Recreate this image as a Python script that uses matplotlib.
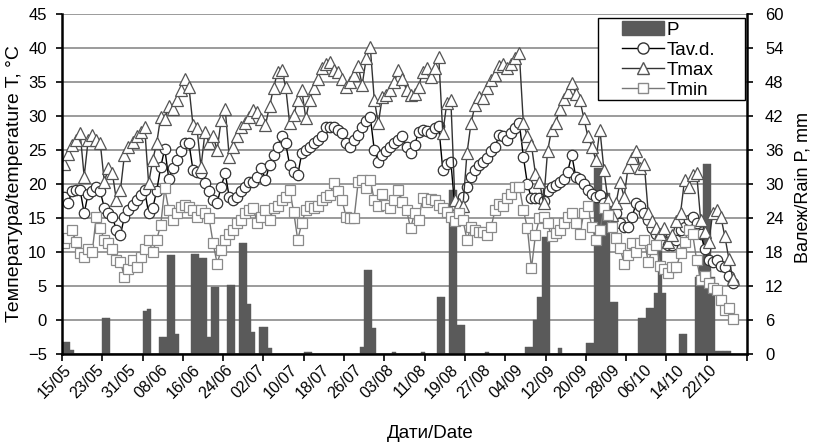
import numpy as np
import matplotlib
matplotlib.use("Agg")
import matplotlib.pyplot as plt
from matplotlib.patches import Patch, Rectangle
from matplotlib.lines import Line2D

plt.rcParams['font.family'] = ['Liberation Sans', 'DejaVu Sans']

# daily data, 15/05 .. 29/10
tmax = [23.0, 24.4, 25.7, 26.5, 27.5, 21.1, 26.5, 27.2, 26.5, 26.0,
        20.3, 22.3, 21.6, 17.6, 19.1, 24.3, 25.5, 26.2, 27.0, 27.7,
        28.4, 20.1, 23.5, 26.0, 29.9, 29.5, 31.4, 31.0, 32.4, 33.8,
        35.5, 34.3, 28.7, 28.2, 22.5, 27.7, 26.0, 27.0, 25.0, 29.4,
        31.1, 24.0, 25.5, 27.0, 28.4, 29.0, 29.8, 30.9, 30.6, 29.5,
        28.7, 31.4, 34.1, 36.5, 36.8, 34.3, 28.9, 30.1, 32.4, 33.8,
        29.7, 32.4, 34.1, 35.5, 37.0, 37.7, 37.9, 36.8, 36.5, 35.5,
        34.3, 35.0, 36.0, 37.3, 34.6, 38.5, 40.2, 32.4, 28.9, 32.8,
        33.1, 33.8, 35.0, 36.8, 35.5, 33.8, 33.1, 33.3, 34.3, 36.5,
        37.0, 35.8, 37.0, 38.7, 27.5, 31.9, 32.4, 17.6, 17.0, 16.7,
        24.5, 28.9, 31.6, 32.8, 32.6, 34.1, 35.3, 36.0, 37.3, 37.7,
        37.0, 37.7, 38.5, 39.2, 28.9, 27.0, 25.7, 21.5, 20.3, 17.2,
        24.8, 28.0, 28.9, 31.0, 32.5, 33.5, 34.8, 33.3, 32.4, 29.7,
        27.0, 25.5, 23.5, 28.0, 22.0, 17.6, 15.5, 17.2, 20.3, 18.1,
        22.5, 23.8, 24.8, 22.3, 23.0, 15.7, 14.5, 13.5, 12.7, 13.5,
        11.5, 12.5, 14.5, 15.7, 20.6, 19.5, 21.3, 21.6, 14.7, 13.0,
        11.5, 15.7, 16.2, 15.2, 12.3, 9.0, 6.0]

tav = [18.1, 17.2, 18.9, 19.1, 19.1, 15.7, 18.6, 18.9, 19.6, 18.9,
       16.5, 15.7, 15.2, 13.2, 12.5, 15.2, 16.2, 16.9, 17.6, 18.4,
       19.1, 15.7, 16.4, 19.0, 22.5, 25.2, 20.8, 22.3, 23.5, 24.8,
       26.0, 26.0, 22.1, 21.8, 21.6, 20.1, 18.9, 17.6, 17.2, 19.6,
       21.6, 18.1, 17.6, 18.1, 18.9, 19.6, 20.3, 20.3, 21.1, 22.3,
       20.6, 22.8, 24.3, 25.5, 27.0, 26.0, 22.8, 21.8, 21.3, 24.5,
       25.0, 25.5, 26.0, 26.5, 27.0, 28.4, 28.4, 28.4, 27.9, 27.5,
       26.0, 25.5, 26.5, 27.2, 28.4, 29.2, 29.9, 25.0, 23.3, 24.3,
       24.8, 25.5, 26.0, 26.5, 27.0, 25.5, 24.5, 25.7, 27.7, 28.0,
       27.8, 27.5, 28.2, 28.5, 22.1, 23.0, 23.3, 16.5, 16.0, 18.1,
       19.6, 21.1, 22.1, 22.8, 23.3, 23.8, 24.8, 25.5, 27.2, 27.0,
       26.5, 27.5, 28.2, 28.9, 24.0, 20.0, 17.9, 17.9, 17.9, 17.5,
       18.9, 19.6, 19.9, 20.3, 20.8, 21.8, 24.3, 21.1, 20.8, 20.0,
       19.1, 18.6, 18.1, 18.4, 17.2, 16.5, 15.7, 15.7, 14.2, 13.7,
       13.7, 15.2, 17.2, 16.7, 15.7, 14.7, 13.5, 12.7, 12.0, 11.5,
       11.0, 11.0, 11.8, 13.2, 13.7, 14.7, 15.2, 14.2, 12.7, 10.5,
       8.8, 8.5, 8.8, 8.0, 7.8, 6.4, 5.4]

tmin = [11.3, 12.0, 13.2, 11.5, 9.8, 9.3, 10.5, 10.0, 15.2, 13.5,
        11.8, 11.3, 10.5, 8.8, 8.6, 6.3, 7.5, 8.8, 7.8, 9.3,
        10.5, 11.8, 10.0, 11.8, 14.0, 19.4, 16.2, 14.7, 15.7, 16.6,
        16.9, 16.6, 16.2, 15.2, 16.2, 15.7, 15.0, 11.3, 8.3, 10.3,
        11.8, 12.7, 13.2, 14.2, 14.7, 15.7, 16.2, 16.4, 14.2, 15.2,
        16.2, 14.7, 16.4, 16.7, 17.6, 18.1, 19.1, 15.9, 11.8, 14.2,
        16.2, 16.7, 16.4, 16.7, 17.6, 18.1, 18.4, 20.1, 18.9, 17.6,
        15.2, 15.0, 15.0, 20.3, 20.6, 19.4, 20.6, 17.6, 16.7, 18.6,
        16.9, 16.5, 17.6, 19.1, 17.4, 16.2, 13.5, 15.7, 14.7, 17.9,
        17.4, 17.8, 17.6, 16.9, 16.5, 15.9, 15.2, 14.5, 15.7, 14.7,
        11.8, 13.7, 13.3, 13.0, 13.0, 12.5, 13.7, 16.2, 17.0, 16.7,
        17.9, 18.5, 19.6, 19.6, 16.2, 13.5, 7.6, 12.5, 15.0, 15.2,
        14.2, 12.3, 12.8, 13.3, 14.2, 15.2, 15.7, 14.2, 12.7, 15.7,
        16.7, 13.7, 11.8, 13.2, 16.4, 15.4, 13.7, 12.0, 10.6, 8.3,
        9.5, 11.3, 10.0, 11.3, 11.8, 8.5, 10.5, 11.0, 8.0, 7.5,
        6.9, 7.8, 7.8, 9.8, 11.5, 13.2, 12.7, 8.8, 5.9, 6.4,
        5.5, 4.7, 4.4, 2.9, 1.5, 1.7, 0.2]

rain = [2.2, 2.2, 0.7, 0, 0, 0, 0, 0, 0, 0,
        6.3, 6.3, 0, 0, 0, 0, 0, 0, 0, 0,
        7.5, 8.0, 0, 0, 3.0, 3.0, 17.5, 17.5, 3.6, 0,
        0, 0, 17.6, 17.6, 16.9, 16.9, 3.0, 11.9, 11.9, 0,
        0, 12.2, 12.2, 0, 19.5, 19.5, 8.9, 3.9, 0, 4.8,
        4.8, 1.0, 0, 0, 0, 0, 0, 0, 0, 0,
        0.4, 0.4, 0, 0, 0, 0, 0, 0, 0, 0,
        0, 0, 0, 0, 1.3, 14.8, 14.8, 4.5, 0, 0,
        0, 0, 0.4, 0, 0, 0, 0, 0, 0, 0.4,
        0, 0, 0, 10.1, 10.1, 0, 28.9, 28.9, 5.1, 5.1,
        0, 0, 0, 0, 0, 0.4, 0, 0, 0, 0,
        0, 0, 0, 0, 0, 1.3, 1.3, 6.0, 10.1, 20.7,
        20.7, 0, 0, 1.0, 0, 0, 0, 0, 0, 0,
        1.9, 1.9, 32.8, 32.8, 28.4, 28.4, 9.2, 9.2, 0, 0,
        0, 0, 0, 6.3, 6.3, 8.1, 8.1, 10.7, 21.6, 10.7,
        0, 0, 0, 3.6, 3.6, 0, 0, 13.6, 15.7, 33.6,
        33.6, 13.6, 0.5, 0.5, 0.5, 0.5, 0]

date_labels = ['15/05', '23/05', '31/05', '08/06', '16/06', '24/06', '02/07',
               '10/07', '18/07', '26/07', '03/08', '11/08', '19/08', '27/08',
               '04/09', '12/09', '20/09', '28/09', '06/10', '14/10', '22/10']

n_cat = 170  # categories on the axis, 15/05 .. 31/10
days = np.arange(len(tmax))

W, H = 815, 448
fig = plt.figure(figsize=(W / 100, H / 100), dpi=100)
ax = fig.add_axes([62 / W, 1 - 354 / H, (747 - 62) / W, (354 - 14) / H])
axp = ax.twinx()
ax.set_zorder(2)
axp.set_zorder(1)
ax.patch.set_visible(False)

bar_col = '#5a5a5a'
axp.bar(days, rain, width=1.0, color=bar_col, edgecolor=bar_col, linewidth=0.3, zorder=2)
axp.set_ylim(0, 60)
axp.set_yticks(range(0, 61, 6))
axp.yaxis.grid(True, color='#8a8a8a', linewidth=1.2)
axp.set_axisbelow(True)

ax.plot(days, tav, '-o', color='black', lw=1.0, ms=7.5, mfc='white', mec='#333333', mew=0.9)
ax.plot(days, tmax, '-^', color='#333333', lw=1.0, ms=8, mfc='white', mec='#555555', mew=0.9)
ax.plot(days, tmin, '-s', color='#777777', lw=1.0, ms=7, mfc='white', mec='#8a8a8a', mew=0.9)

ax.set_xlim(-0.5, n_cat - 0.5)
ax.set_ylim(-5, 45)
ax.set_yticks(range(-5, 46, 5))
ax.set_xticks(np.arange(0, 161, 8))
ax.set_xticklabels(date_labels, rotation=45, ha='right', va='top', rotation_mode='anchor')
ax.set_xticks(np.arange(-0.5, n_cat, 10), minor=True)
ax.tick_params(axis='x', which='major', length=0, labelsize=11.5, pad=6)
ax.tick_params(axis='x', which='minor', length=5, width=1.2, direction='out')
ax.tick_params(axis='y', length=4, width=1.2, labelsize=12, pad=7)
axp.tick_params(axis='y', length=4, width=1.2, labelsize=12, pad=9)

for s in ['top', 'right']:
    ax.spines[s].set_visible(False)
for s in ['left', 'bottom']:
    ax.spines[s].set_linewidth(1.8)
    ax.spines[s].set_color('black')
for s in ['top', 'left', 'bottom']:
    axp.spines[s].set_visible(False)
axp.spines['right'].set_linewidth(1.8)
axp.spines['right'].set_color('black')

ax.set_ylabel('Температура/temperature T, °C', fontsize=14)
ax.yaxis.set_label_coords(-0.057, 0.5)
axp.set_ylabel('Валеж/Rain P, mm', fontsize=13)
axp.yaxis.set_label_coords(1.069, 0.49)
ax.set_xlabel('Дати/Date', fontsize=13.5)
ax.xaxis.set_label_coords(0.537, -0.21)

# legend box
box = Rectangle((598 / W, 1 - 100 / H), 147 / W, 82 / H, transform=fig.transFigure,
                facecolor='white', edgecolor='black', linewidth=1.0, zorder=9, clip_on=False)
ax.add_artist(box)

handles = [Patch(facecolor=bar_col, edgecolor=bar_col),
           Line2D([], [], color='black', lw=1.0, marker='o', ms=8, mfc='white', mec='#333333'),
           Line2D([], [], color='#333333', lw=1.0, marker='^', ms=8.5, mfc='white', mec='#555555'),
           Line2D([], [], color='#777777', lw=1.0, marker='s', ms=7.5, mfc='white', mec='#8a8a8a')]
leg = ax.legend(handles, ['P', 'Tav.d.', 'Tmax', 'Tmin'], loc='upper left',
                bbox_to_anchor=(622 / W, 1 - 21 / H), bbox_transform=fig.transFigure,
                frameon=False, fontsize=13.5, borderaxespad=0, borderpad=0,
                handlelength=2.25, handleheight=0.8, labelspacing=0.13, handletextpad=0.15)
leg.set_zorder(10)

fig.savefig('out.png', dpi=100)
